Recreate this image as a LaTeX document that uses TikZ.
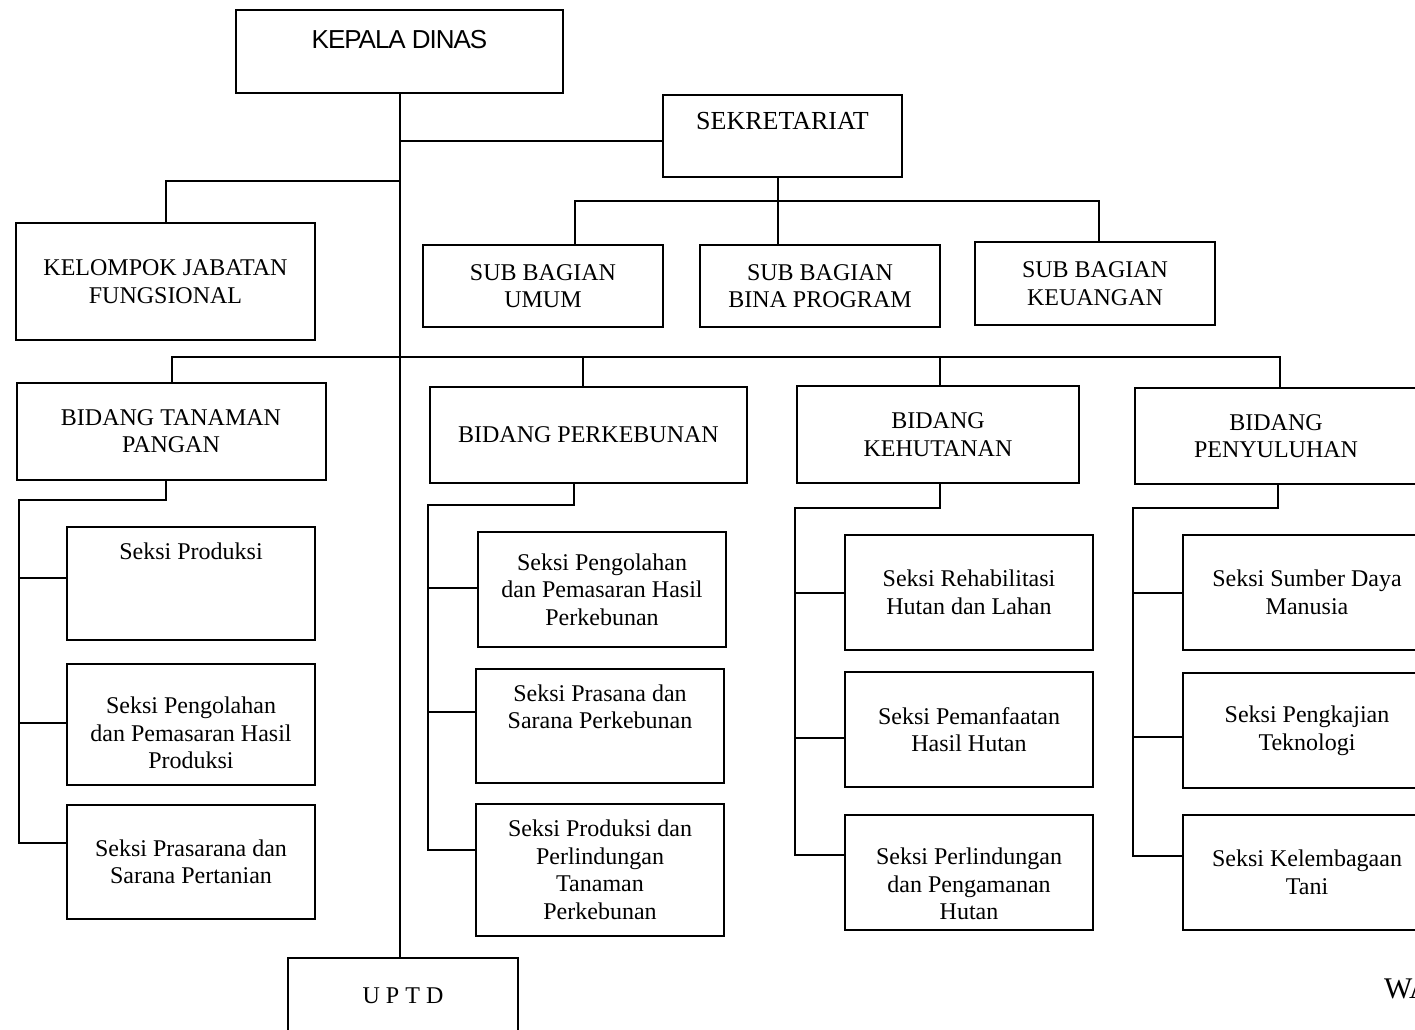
\documentclass[tikz,border=0pt]{standalone}
\usepackage{fontspec}
\setmainfont{Liberation Serif}
\newfontfamily\kdfont{Liberation Sans}[LetterSpace=-4]
\begin{document}
\begin{tikzpicture}
  [x=1pt,y=-1pt,
   every node/.style={align=center,inner sep=0pt,font=\fontsize{24}{27.5}\selectfont},
   box/.style={draw,line width=2pt},
   link/.style={line width=2pt}]
  \useasboundingbox (0,0) rectangle (1415,1029);
  \clip (0,0) rectangle (1415,1029);
  % pimpinan dan sekretariat
  \node (kd)[box,minimum width=327pt,minimum height=83pt] at (399.5,51.5) {};
  \node (kdtext) at ([yshift=11.5pt]kd.center) {\kdfont\fontsize{26}{28}\selectfont KEPALA DINAS};
  \node (sek)[box,minimum width=239pt,minimum height=82pt] at (782.5,136) {};
  \node (sektext) at ([yshift=15pt]sek.center) {\fontsize{26}{28}\selectfont SEKRETARIAT};
  \node (kjf)[box,minimum width=299pt,minimum height=117pt] at (165.5,281.5) {KELOMPOK JABATAN\\FUNGSIONAL};
  \node (sbu)[box,minimum width=240pt,minimum height=82pt] at (543,286) {SUB BAGIAN\\UMUM};
  \node (sbp)[box,minimum width=240pt,minimum height=82pt] at (820,286) {SUB BAGIAN\\BINA PROGRAM};
  \node (sbk)[box,minimum width=240pt,minimum height=83pt] at (1095,283.5) {SUB BAGIAN\\KEUANGAN};
  % bidang
  \node (btp)[box,minimum width=309pt,minimum height=97pt] at (171,431) {BIDANG TANAMAN\\PANGAN};
  \node (bpk)[box,minimum width=317pt,minimum height=96pt] at (588.5,435) {BIDANG PERKEBUNAN};
  \node (bkh)[box,minimum width=282pt,minimum height=97pt] at (938,434.5) {BIDANG\\KEHUTANAN};
  \node (bpy)[box,minimum width=282pt,minimum height=96pt] at (1276,436) {BIDANG\\PENYULUHAN};
  % seksi tanaman pangan
  \node (tp1)[box,minimum width=248pt,minimum height=113pt] at (191,583.5) {};
  \node (tp1text) at ([yshift=32.5pt]tp1.center) {Seksi Produksi};
  \node (tp2)[box,minimum width=248pt,minimum height=121pt] at (191,724) {};
  \node (tp2text) at ([yshift=-9pt]tp2.center) {Seksi Pengolahan\\dan Pemasaran Hasil\\Produksi};
  \node (tp3)[box,minimum width=248pt,minimum height=114pt] at (191,862) {Seksi Prasarana dan\\Sarana Pertanian};
  % seksi perkebunan
  \node (pk1)[box,minimum width=248pt,minimum height=115pt] at (602,589.5) {Seksi Pengolahan\\dan Pemasaran Hasil\\Perkebunan};
  \node (pk2)[box,minimum width=248pt,minimum height=114pt] at (600,726) {};
  \node (pk2text) at ([yshift=19pt]pk2.center) {Seksi Prasana dan\\Sarana Perkebunan};
  \node (pk3)[box,minimum width=248pt,minimum height=132pt] at (600,870) {Seksi Produksi dan\\Perlindungan\\Tanaman\\Perkebunan};
  % seksi kehutanan
  \node (kh1)[box,minimum width=248pt,minimum height=115pt] at (969,592.5) {Seksi Rehabilitasi\\Hutan dan Lahan};
  \node (kh2)[box,minimum width=248pt,minimum height=115pt] at (969,729.5) {Seksi Pemanfaatan\\Hasil Hutan};
  \node (kh3)[box,minimum width=248pt,minimum height=115pt] at (969,872.5) {};
  \node (kh3text) at ([yshift=-11.5pt]kh3.center) {Seksi Perlindungan\\dan Pengamanan\\Hutan};
  % seksi penyuluhan
  \node (py1)[box,minimum width=248pt,minimum height=115pt] at (1307,592.5) {Seksi Sumber Daya\\Manusia};
  \node (py2)[box,minimum width=248pt,minimum height=115pt] at (1307,730.5) {Seksi Pengkajian\\Teknologi};
  \node (py3)[box,minimum width=248pt,minimum height=115pt] at (1307,872.5) {Seksi Kelembagaan\\Tani};
  \node (uptd)[box,minimum width=230pt,minimum height=76pt] at (403,996) {U P T D};
  \node (wa)[anchor=base west,font=\fontsize{30}{34}\selectfont] at (1384,998) {WA};
  % garis
  \coordinate (j1) at (399,181);
  \coordinate (j2) at (399,357);
  \coordinate (j3) at (778,201);
  \coordinate (s1) at (19,500);
  \coordinate (s2) at (428,505);
  \coordinate (s3) at (795,508);
  \coordinate (s4) at (1133,508);
  \draw[link] (kd.south) -- (kd.south |- uptd.north);
  \draw[link] ([yshift=-5pt]sek.west) -- ([yshift=-5pt]sek.west -| kd.south);
  \draw[link] (kjf.north) |- (j1);
  \draw[link] ([xshift=-4.5pt]sek.south) -- ([xshift=-4.5pt]sek.south |- sbp.north);
  \draw[link] ([xshift=32pt]sbu.north) |- (j3) -| ([xshift=4pt]sbk.north);
  \foreach \b/\dx in {btp/1,bpk/-5.5,bkh/2,bpy/4}
    \draw[link] ([xshift=\dx pt]\b.north) |- (j2);
  \draw[link] ([xshift=-5pt]btp.south) |- (s1) |- ([yshift=19pt]tp3.west);
  \draw[link] ([xshift=-14.5pt]bpk.south) |- (s2) |- ([yshift=20pt]pk3.west);
  \draw[link] ([xshift=2pt]bkh.south) |- (s3) |- ([yshift=18pt]kh3.west);
  \draw[link] ([xshift=2pt]bpy.south) |- (s4) |- ([yshift=17pt]py3.west);
  \foreach \b/\s/\dy in {tp1/s1/5.5,tp2/s1/1,pk1/s2/1.5,pk2/s2/14,kh1/s3/0,kh2/s3/-8,py1/s4/0,py2/s4/-6}
    \draw[link] ([yshift=\dy pt]\b.west) -- ([yshift=\dy pt]\b.west -| \s);
\end{tikzpicture}
\end{document}
